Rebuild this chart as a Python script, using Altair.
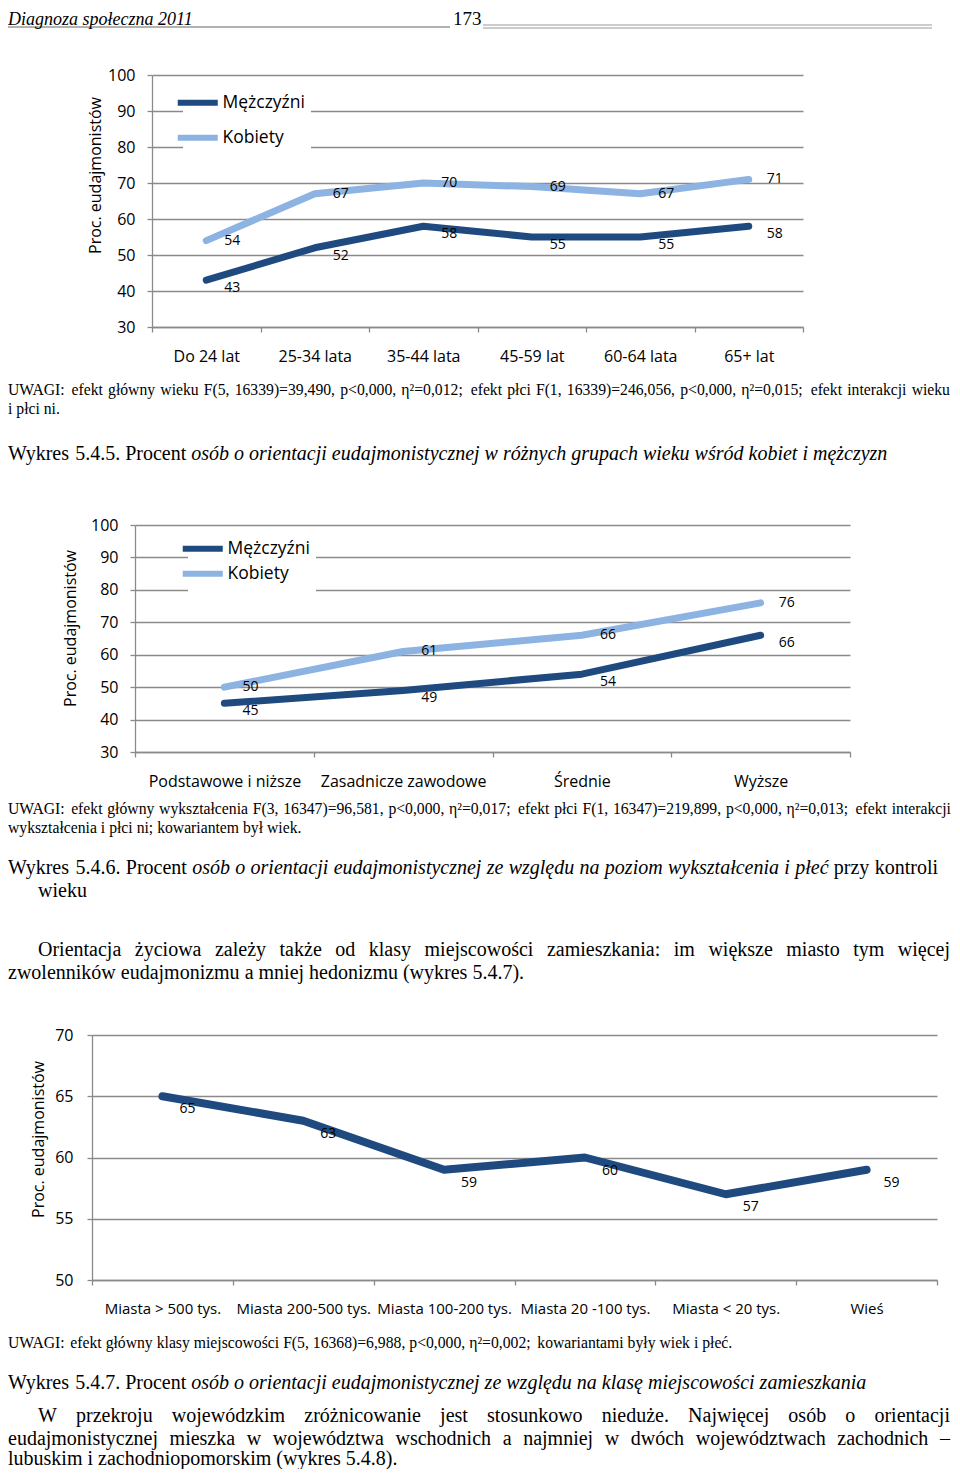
import altair as alt
import pandas as pd

# ---------------- data ----------------
series_names = ["Mężczyźni", "Kobiety"]

age_groups = ["Do 24 lat", "25-34 lata", "35-44 lata", "45-59 lat", "60-64 lata", "65+ lat"]
age_men = [43, 52, 58, 55, 55, 58]
age_women = [54, 67, 70, 69, 67, 71]

edu_levels = ["Podstawowe i niższe", "Zasadnicze zawodowe", "Średnie", "Wyższe"]
edu_men = [45, 49, 54, 66]
edu_women = [50, 61, 66, 76]

town_classes = ["Miasta > 500 tys.", "Miasta 200-500 tys.", "Miasta 100-200 tys.",
                "Miasta 20 -100 tys.", "Miasta < 20 tys.", "Wieś"]
town_values = [65, 63, 59, 60, 57, 59]

y_title = "Proc. eudajmonistów"

header_left = "Diagnoza społeczna 2011"
header_page = "173"

note_age = ["UWAGI: efekt główny wieku F(5, 16339)=39,490, p<0,000, η²=0,012; efekt płci F(1, 16339)=246,056, p<0,000, η²=0,015; efekt interakcji wieku",
            "i płci ni."]
caption_age = [("Wykres 5.4.5. Procent", False),
               ("osób o orientacji eudajmonistycznej w różnych grupach wieku wśród kobiet i mężczyzn", True)]
note_edu = ["UWAGI: efekt główny wykształcenia F(3, 16347)=96,581, p<0,000, η²=0,017; efekt płci F(1, 16347)=219,899, p<0,000, η²=0,013; efekt interakcji",
            "wykształcenia i płci ni; kowariantem był wiek."]
caption_edu = [("Wykres 5.4.6. Procent", False),
               ("osób o orientacji eudajmonistycznej ze względu na poziom wykształcenia i płeć", True),
               ("przy kontroli", False)]
caption_edu_2 = "wieku"
para_1 = ["Orientacja życiowa zależy także od klasy miejscowości zamieszkania: im większe miasto tym więcej",
          "zwolenników eudajmonizmu a mniej hedonizmu (wykres 5.4.7)."]
note_town = "UWAGI: efekt główny klasy miejscowości F(5, 16368)=6,988, p<0,000, η²=0,002; kowariantami były wiek i płeć."
caption_town = [("Wykres 5.4.7. Procent", False),
                ("osób o orientacji eudajmonistycznej ze względu na klasę miejscowości zamieszkania", True)]
para_2 = ["W przekroju wojewódzkim zróżnicowanie jest stosunkowo nieduże. Najwięcej osób o orientacji",
          "eudajmonistycznej mieszka w województwa wschodnich a najmniej w dwóch województwach zachodnich –",
          "lubuskim i zachodniopomorskim (wykres 5.4.8)."]

# ---------------- style ----------------
DARK = "#1F4A80"
LIGHT = "#8DB3E2"
GRID = "#8a8a8a"
SANS = "Open Sans"
SERIF = "Liberation Serif"
PAGE_W, PAGE_H, MARGIN = 944, 1461, 8


def pg(v):
    return v - MARGIN


# --------------- text metrics (Times / Liberation Serif) ---------------
_up = dict(zip("abcdefghijklmnopqrstuvwxyz",
               [444, 500, 444, 500, 444, 333, 500, 500, 278, 278, 500, 278, 778, 500, 500, 500, 500, 333, 389, 278, 500, 500, 722, 500, 500, 444]))
_it = dict(zip("abcdefghijklmnopqrstuvwxyz",
               [500, 500, 444, 500, 444, 278, 500, 500, 278, 278, 444, 278, 722, 500, 500, 500, 500, 389, 389, 278, 500, 444, 667, 444, 444, 389]))
_caps_up = dict(zip("ABCDEFGHIJKLMNOPQRSTUVWXYZ",
                    [722, 667, 667, 722, 611, 556, 722, 722, 333, 389, 722, 611, 889, 722, 722, 556, 722, 667, 556, 611, 722, 722, 944, 722, 722, 611]))
_caps_it = dict(zip("ABCDEFGHIJKLMNOPQRSTUVWXYZ",
                    [611, 611, 667, 722, 611, 611, 722, 722, 333, 444, 667, 556, 833, 667, 722, 611, 722, 611, 500, 556, 722, 611, 833, 611, 556, 556]))
_punct = {" ": 250, ".": 250, ",": 250, ":": 278, ";": 278, "(": 333, ")": 333, "-": 333,
          "=": 564, "<": 564, ">": 564, "–": 500, "²": 300, "η": 500}
_pl = {"ą": "a", "ć": "c", "ę": "e", "ł": "l", "ń": "n", "ó": "o", "ś": "s", "ź": "z", "ż": "z",
       "Ś": "S", "Ż": "Z", "Ł": "L"}


def measure(word, italic, size):
    tot = 0
    for ch in word:
        ch = _pl.get(ch, ch)
        if ch.isdigit():
            tot += 500
        elif ch in _punct:
            tot += _punct[ch]
        elif ch.islower():
            tot += (_it if italic else _up).get(ch, 500)
        else:
            tot += (_caps_it if italic else _caps_up).get(ch, 667)
    return tot / 1000 * size


def layout_line(runs, x0, x1, y, size):
    x0 = max(x0, MARGIN)
    words = [(w, it) for text, it in runs for w in text.split()]
    widths = [measure(w, it, size) for w, it in words]
    space = 0.25 * size
    if x1 is not None and len(words) > 1:
        space = max((x1 - x0 - sum(widths)) / (len(words) - 1), 0.2 * size)
    out, x = [], x0
    for (w, it), wd in zip(words, widths):
        out.append({"t": w, "x": pg(x), "y": pg(y), "size": size, "italic": it})
        x += wd + space
    return out


NOTE, CAP = 15.7, 20.0
text_rows = []
text_rows += layout_line([(header_left, True)], 5, None, 20, 18)
text_rows += layout_line([(header_page, False)], 453, None, 19, 19)
text_rows += layout_line([(note_age[0], False)], 5, 950, 390, NOTE)
text_rows += layout_line([(note_age[1], False)], 5, None, 409, NOTE)
text_rows += layout_line(caption_age, 5, None, 454, CAP)
text_rows += layout_line([(note_edu[0], False)], 5, 951, 809, NOTE)
text_rows += layout_line([(note_edu[1], False)], 5, None, 828, NOTE)
text_rows += layout_line(caption_edu, 5, 938, 868, CAP)
text_rows += layout_line([(caption_edu_2, False)], 38, None, 891, CAP)
text_rows += layout_line([(para_1[0], False)], 38, 950, 950, CAP)
text_rows += layout_line([(para_1[1], False)], 5, None, 973, CAP)
text_rows += layout_line([(note_town, False)], 5, None, 1343, NOTE)
text_rows += layout_line(caption_town, 5, None, 1383, CAP)
text_rows += layout_line([(para_2[0], False)], 38, 950, 1416, CAP)
text_rows += layout_line([(para_2[1], False)], 5, 950, 1439, CAP)
text_rows += layout_line([(para_2[2], False)], 5, None, 1459, CAP)

text_df = pd.DataFrame(text_rows)
text_layers = []
for (size, italic), grp in text_df.groupby(["size", "italic"]):
    text_layers.append(
        alt.Chart(grp[["t", "x", "y"]]).mark_text(
            align="left", baseline="middle", font=SERIF, fontSize=float(size),
            fontStyle="italic" if italic else "normal", color="#000"
        ).encode(
            x=alt.X("x:Q", scale=None, axis=None),
            y=alt.Y("y:Q", scale=None, axis=None),
            text="t:N",
        )
    )

# header rules
one = pd.DataFrame({"k": [0]})
rule_layers = [
    alt.Chart(one).mark_rule(color="#666", strokeWidth=1).encode(
        x=alt.value(0), x2=alt.value(pg(450)), y=alt.value(pg(27))),
    alt.Chart(one).mark_rule(color="#999", strokeWidth=1).encode(
        x=alt.value(pg(483)), x2=alt.value(pg(932)), y=alt.value(pg(25))),
    alt.Chart(one).mark_rule(color="#999", strokeWidth=1).encode(
        x=alt.value(pg(483)), x2=alt.value(pg(932)), y=alt.value(pg(28))),
]


# ---------------- chart panels ----------------
def long_table(cats, men, women=None):
    rows = []
    for i, c in enumerate(cats):
        rows.append({"cat": c, "series": series_names[0], "value": men[i]})
        if women is not None:
            rows.append({"cat": c, "series": series_names[1], "value": women[i]})
    return pd.DataFrame(rows)


def panel(df, cats, box, ydom, ystep, title_pos, xlab_size, ylab_pad, line_w,
          lab_dx, lab_dy, legend=None):
    left, top, right, bottom = [pg(v) for v in box]
    x_enc = alt.X(
        "cat:N", sort=cats, bandPosition=0.5, title=None,
        scale=alt.Scale(type="band", domain=cats, range=[left, right], paddingInner=0, paddingOuter=0),
        axis=alt.Axis(orient="bottom", offset=bottom - PAGE_H, tickBand="extent", grid=False,
                      domainColor=GRID, domainWidth=1.3, tickColor=GRID, tickWidth=1.3, tickSize=5,
                      labelFont=SANS, labelFontSize=xlab_size, labelColor="#000", labelPadding=16,
                      labelAngle=0),
    )
    y_enc = alt.Y(
        "value:Q", title=y_title,
        scale=alt.Scale(domain=ydom, range=[bottom, top], nice=False, zero=False),
        axis=alt.Axis(orient="left", offset=-left, values=list(range(ydom[0], ydom[1] + 1, ystep)),
                      grid=True, gridColor=GRID, gridWidth=1.3, domainColor=GRID, domainWidth=1.3,
                      tickColor=GRID, tickWidth=1.3, tickSize=5,
                      labelFont=SANS, labelFontSize=16, labelColor="#000", labelPadding=ylab_pad,
                      titleFont=SANS, titleFontSize=16, titleFontWeight="normal", titleColor="#000",
                      titleAngle=270, titleAlign="center", titleBaseline="middle",
                      titleX=title_pos[0] - box[0], titleY=pg(title_pos[1])),
    )
    base = alt.Chart(df).encode(x=x_enc, y=y_enc)
    if legend is not None:
        color_enc = alt.Color("series:N", scale=alt.Scale(domain=series_names, range=[DARK, LIGHT]),
                              legend=legend)
        line = base.mark_line(strokeWidth=line_w, strokeCap="round", strokeJoin="round").encode(color=color_enc)
    else:
        line = base.mark_line(strokeWidth=line_w, strokeCap="round", strokeJoin="round", color=DARK)
    layers = [line]
    for name, dy in zip(series_names, lab_dy):
        layers.append(
            base.transform_filter(alt.datum.series == name).mark_text(
                dx=lab_dx, dy=dy, font=SANS, fontSize=14, color="#000", align="center", baseline="middle"
            ).encode(text="value:Q")
        )
    return alt.layer(*layers)


def make_legend(lx, ly, row_pad):
    return alt.Legend(orient="none", legendX=lx, legendY=ly, title=None, fillColor="white",
                      padding=6, symbolType="M-5,0H5", symbolSize=64, symbolStrokeWidth=6,
                      labelFont=SANS, labelFontSize=17.5, labelColor="#000", labelOffset=16,
                      rowPadding=row_pad)


chart_age = panel(long_table(age_groups, age_men, age_women), age_groups,
                  (152, 75, 803, 327), [30, 100], 10, (95, 175), 16, 12, 7,
                  26, [8, 0], legend=make_legend(175, 80, 10))
chart_edu = panel(long_table(edu_levels, edu_men, edu_women), edu_levels,
                  (135, 525, 850, 752), [30, 100], 10, (70, 628), 16, 12, 7,
                  26, [8, 0], legend=make_legend(180, 526, 0))
chart_town = panel(long_table(town_classes, town_values), town_classes,
                   (92, 1035, 937, 1280), [50, 70], 5, (38, 1139), 15, 14, 8,
                   25, [13])

chart = alt.layer(
    *rule_layers, chart_age, chart_edu, chart_town, *text_layers
).resolve_scale(
    x="independent", y="independent", color="independent"
).properties(
    width=PAGE_W, height=PAGE_H, padding=0,
    autosize=alt.AutoSizeParams(type="none"), background="white",
).configure_view(strokeWidth=0)

chart.save("out.html", embed_options={"renderer": "svg", "actions": False})
